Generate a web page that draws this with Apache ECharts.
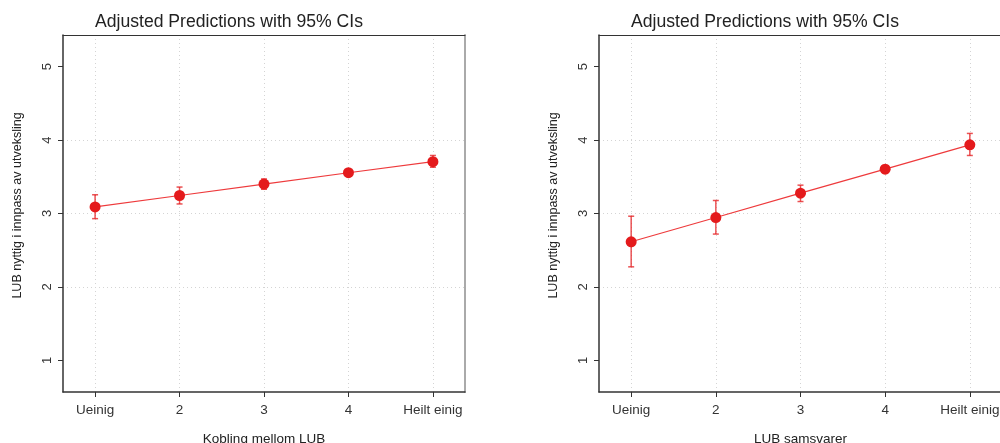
<!DOCTYPE html>
<html>
<head>
<meta charset="utf-8">
<script src="https://cdn.jsdelivr.net/npm/echarts@6.0.0/dist/echarts.min.js"></script>
<style>
  html, body { margin: 0; padding: 0; background: #fff; }
  #chart { width: 1000px; height: 443px; }
</style>
</head>
<body>
<div id="chart"></div>
<script>
var categories = ['Ueinig', '2', '3', '4', 'Heilt einig']
var levels = [1, 2, 3, 4, 5]
var yTicks = [1, 2, 3, 4, 5]
var yGrid = [2, 3, 4]

// left panel: Kobling mellom LUB
var koblingMean = [3.09, 3.245, 3.40, 3.555, 3.705]
var koblingLow = [2.93, 3.13, 3.33, 3.51, 3.63]
var koblingHigh = [3.255, 3.36, 3.47, 3.595, 3.79]

// right panel: LUB samsvarer
var samsvarMean = [2.615, 2.945, 3.277, 3.604, 3.935]
var samsvarLow = [2.274, 2.72, 3.163, 3.555, 3.79]
var samsvarHigh = [2.963, 3.177, 3.386, 3.654, 4.09]

var titleText = 'Adjusted Predictions with 95% CIs'
var yName = 'LUB nyttig i innpass av utveksling'
var xNames = ['Kobling mellom LUB', 'LUB samsvarer']

var red = '#e41a1c'
var font = 'Liberation Sans, Arial, sans-serif'
var gridLine = { type: [1, 3], color: '#d4d4d4', width: 1 }

var chart = echarts.init(document.getElementById('chart'), null, { renderer: 'canvas' })

function xAxes(i) {
  return [
    {
      type: 'value', gridIndex: i, position: 'bottom', min: 0.62, max: 5.38,
      name: xNames[i], nameLocation: 'middle', nameGap: 40,
      nameTextStyle: { color: '#222', fontSize: 13.5, fontFamily: font },
      axisLine: { lineStyle: { color: '#333', width: 1.5 } },
      axisTick: { show: true, length: 5, customValues: levels, lineStyle: { color: '#333' } },
      axisLabel: {
        customValues: levels, color: '#333', fontSize: 13.5, fontFamily: font, margin: 11,
        formatter: function (v) { return categories[Math.round(v) - 1] }
      },
      splitLine: { show: true, lineStyle: gridLine }
    },
    {
      type: 'value', gridIndex: i, position: 'top', min: 0.62, max: 5.38,
      axisLine: { show: true, lineStyle: { color: '#333', width: 1 } },
      axisTick: { show: false }, axisLabel: { show: false }, splitLine: { show: false }
    }
  ]
}

function yAxes(i) {
  return [
    {
      type: 'value', gridIndex: i, position: 'left', min: 0.57, max: 5.43,
      name: yName, nameLocation: 'middle', nameGap: 39,
      nameTextStyle: { color: '#222', fontSize: 12.5, fontFamily: font, padding: [0, 0, 0, 16] },
      axisLine: { show: true, lineStyle: { color: '#333', width: 1.5 } },
      axisTick: { show: true, length: 5, customValues: yTicks, lineStyle: { color: '#333', width: 1 } },
      axisLabel: { customValues: yTicks, rotate: 90, color: '#333', fontSize: 13, fontFamily: font, margin: 9 },
      splitLine: { show: false }
    },
    {
      type: 'value', gridIndex: i, position: 'right', min: 0.57, max: 5.43,
      axisLine: { show: true, lineStyle: { color: '#aaa', width: 2 } },
      axisTick: { show: false, customValues: yGrid },
      axisLabel: { show: false },
      splitLine: { show: true, lineStyle: gridLine }
    }
  ]
}

function errorSeries(i, low, high) {
  return {
    type: 'custom', xAxisIndex: i * 2, yAxisIndex: i * 2, z: 3,
    data: levels.map(function (x, k) { return [x, low[k], high[k]] }),
    encode: { x: 0, y: [1, 2] },
    renderItem: function (params, api) {
      var lo = api.coord([api.value(0), api.value(1)])
      var hi = api.coord([api.value(0), api.value(2)])
      var w = 3
      var style = { stroke: 'rgba(228,26,28,0.75)', lineWidth: 1.5 }
      return {
        type: 'group',
        children: [
          { type: 'line', shape: { x1: lo[0], y1: lo[1], x2: hi[0], y2: hi[1] }, style: style },
          { type: 'line', shape: { x1: lo[0] - w, y1: lo[1], x2: lo[0] + w, y2: lo[1] }, style: style },
          { type: 'line', shape: { x1: hi[0] - w, y1: hi[1], x2: hi[0] + w, y2: hi[1] }, style: style }
        ]
      }
    }
  }
}

function meanSeries(i, mean) {
  return {
    type: 'line', xAxisIndex: i * 2, yAxisIndex: i * 2, z: 4,
    data: levels.map(function (x, k) { return [x, mean[k]] }),
    symbol: 'circle', symbolSize: 11,
    itemStyle: { color: red },
    lineStyle: { color: '#ee3a3c', width: 1.2 },
    clip: false
  }
}

var option = {
  animation: false,
  backgroundColor: '#fff',
  title: [
    { text: titleText, left: 95, top: 13, padding: 0, textStyle: { fontSize: 17.6, fontWeight: 'normal', color: '#222', fontFamily: font } },
    { text: titleText, left: 631, top: 13, padding: 0, textStyle: { fontSize: 17.6, fontWeight: 'normal', color: '#222', fontFamily: font } }
  ],
  grid: [
    { left: 63, top: 35, width: 402, height: 357, outerBoundsMode: 'none' },
    { left: 599, top: 35, width: 403, height: 357, outerBoundsMode: 'none' }
  ],
  xAxis: xAxes(0).concat(xAxes(1)),
  yAxis: yAxes(0).concat(yAxes(1)),
  series: [
    errorSeries(0, koblingLow, koblingHigh),
    meanSeries(0, koblingMean),
    errorSeries(1, samsvarLow, samsvarHigh),
    meanSeries(1, samsvarMean)
  ]
}

chart.setOption(option)
</script>
</body>
</html>
